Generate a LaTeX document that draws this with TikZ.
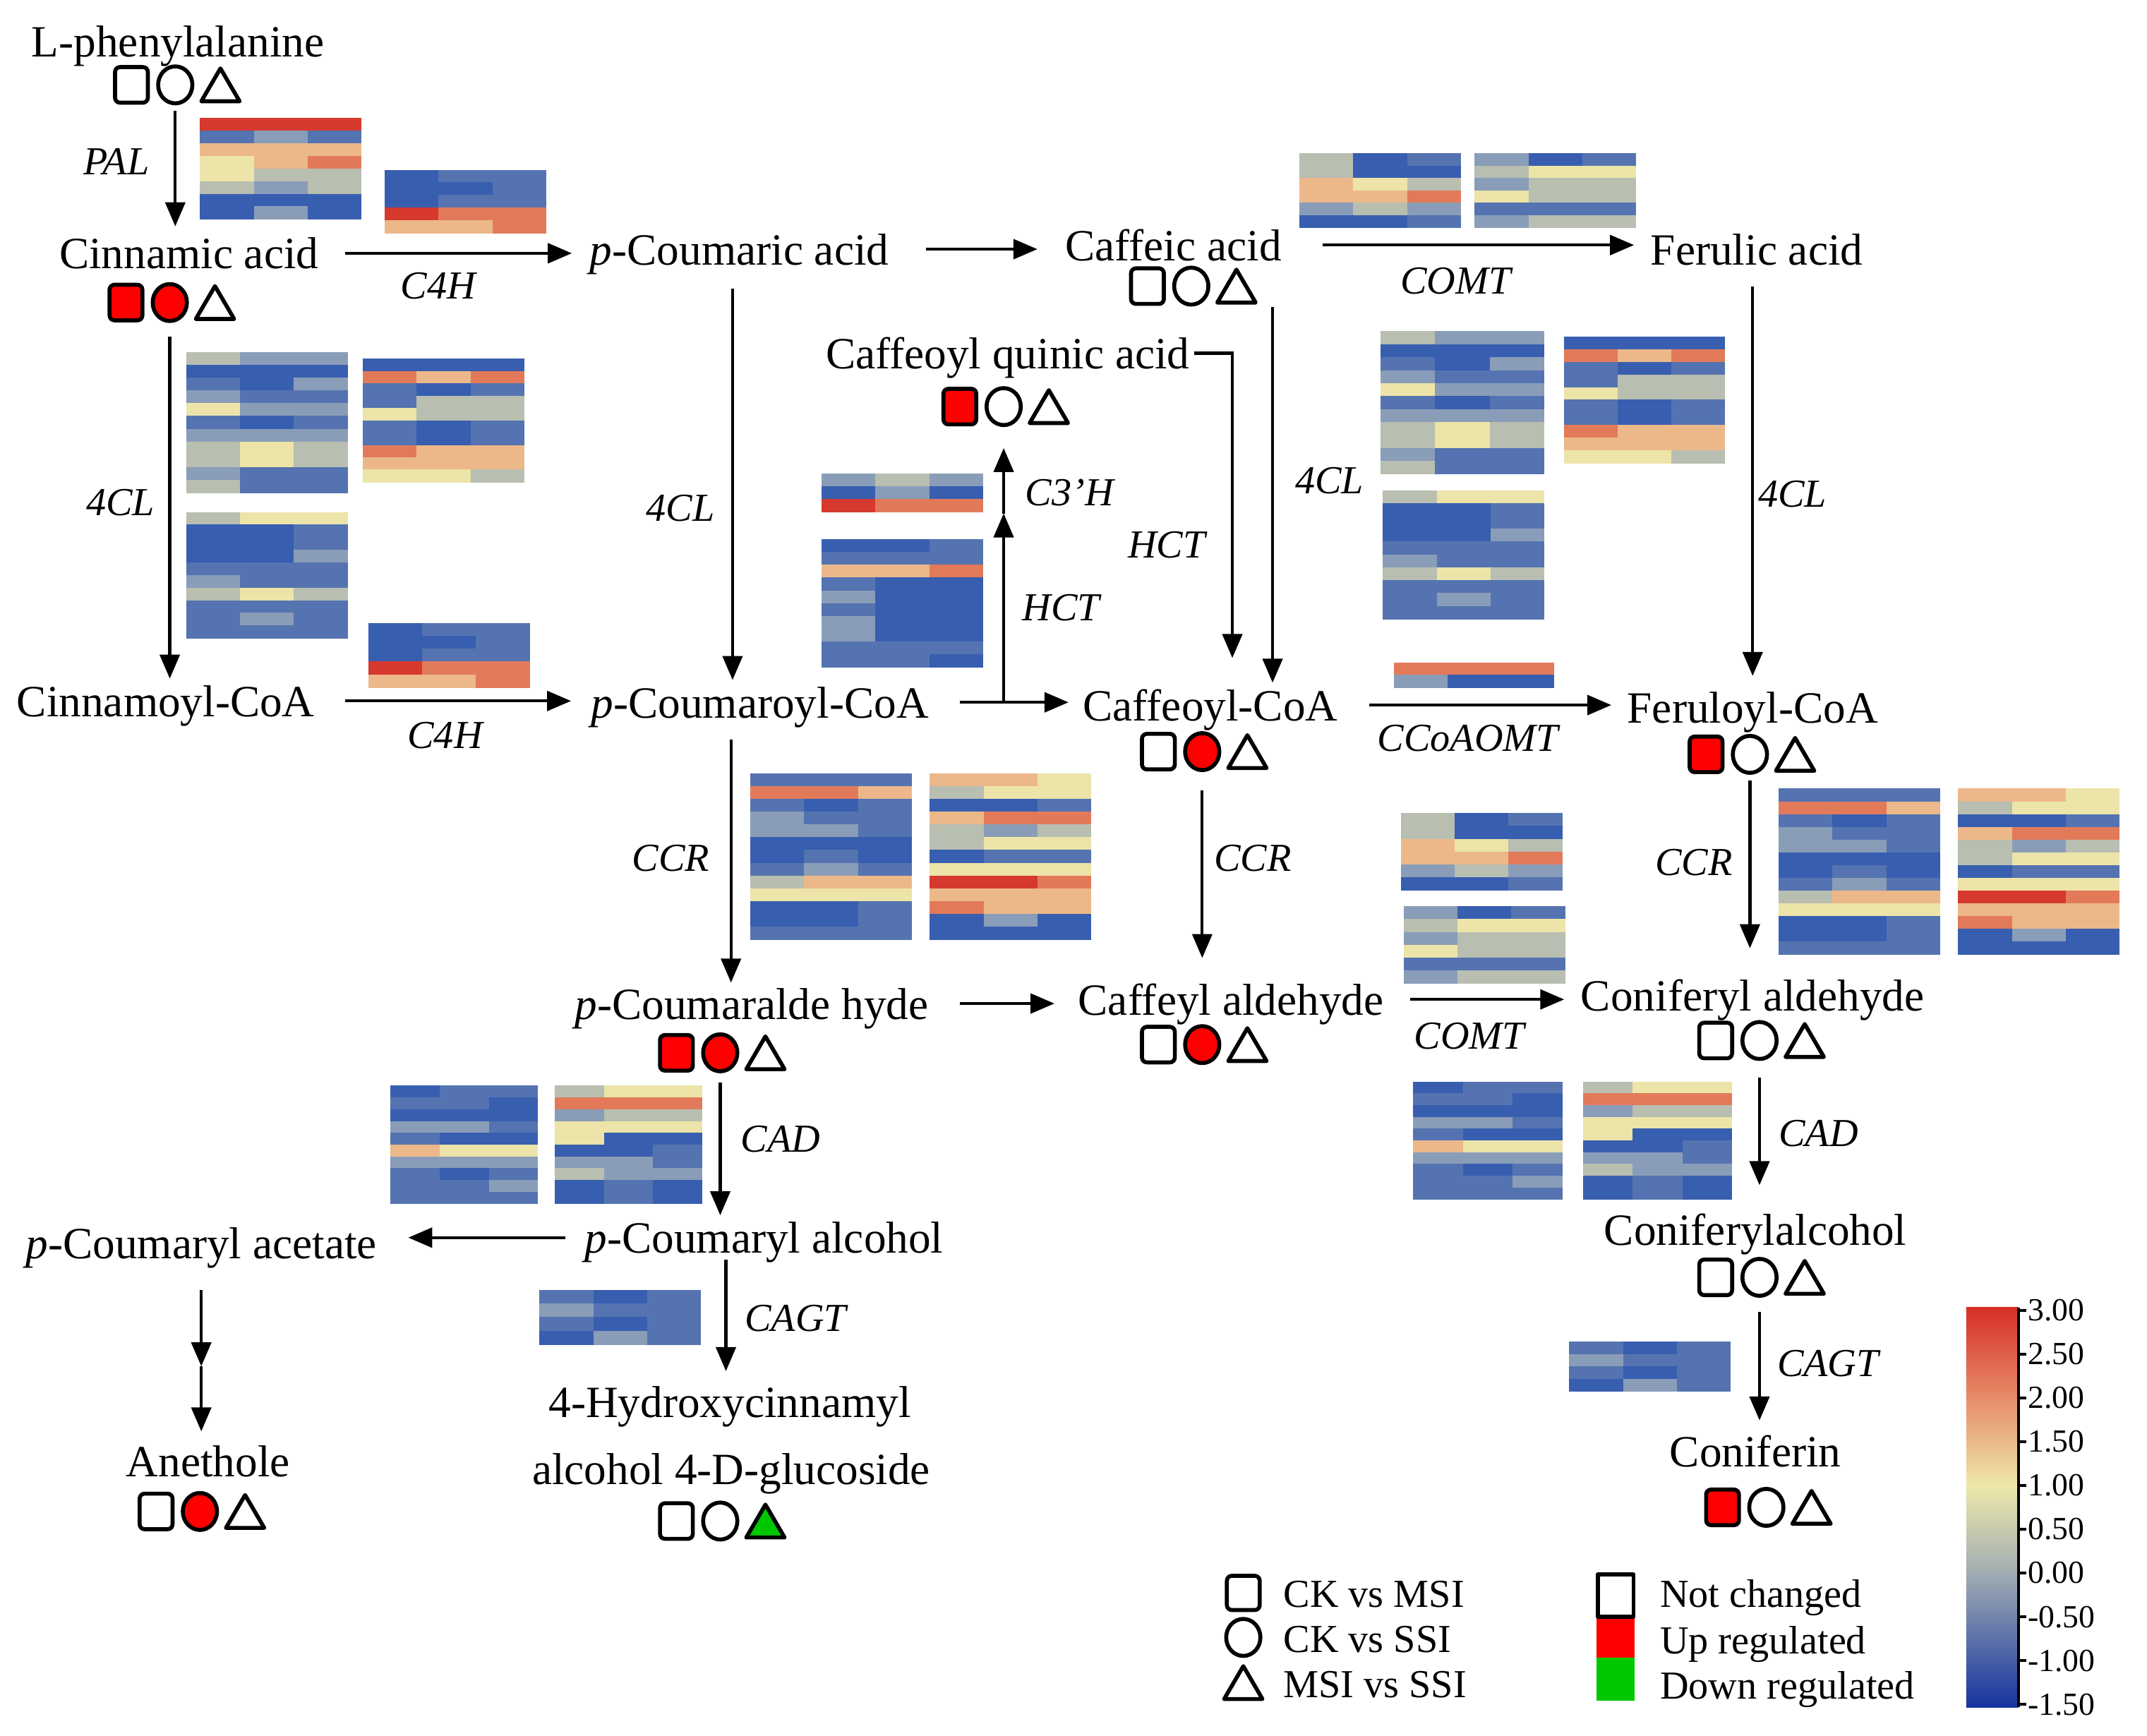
\documentclass[tikz,border=0pt]{standalone}
\usepackage{fontspec}
\setmainfont{Liberation Serif}
\usetikzlibrary{arrows.meta}

% heatmap colours
\definecolor{hmR}{RGB}{214,57,45}
\definecolor{hmO}{RGB}{226,122,90}
\definecolor{hmP}{RGB}{236,184,138}
\definecolor{hmY}{RGB}{236,228,168}
\definecolor{hmG}{RGB}{184,190,176}
\definecolor{hmH}{RGB}{138,157,184}
\definecolor{hmM}{RGB}{84,115,176}
\definecolor{hmB}{RGB}{56,94,176}
% colour bar
\definecolor{cbR}{RGB}{214,47,39}
\definecolor{cbS}{RGB}{230,140,105}
\definecolor{cbY}{RGB}{238,232,170}
\definecolor{cbG}{RGB}{160,172,178}
\definecolor{cbB}{RGB}{22,52,160}
% regulation
\definecolor{symred}{RGB}{255,0,0}
\definecolor{symgreen}{RGB}{0,200,0}

\tikzset{
  met/.style={font=\fontsize{18}{21}\selectfont, inner sep=0pt, text height=12.5pt, text depth=0pt},
  enz/.style={font=\fontsize{16}{19}\selectfont\itshape, inner sep=0pt},
  arr/.style={line width=1.2pt, -{Triangle[length=3.4mm,width=2.8mm]}, shorten <=0.97mm, shorten >=1.55mm},
  symrow/.style={inner sep=0pt, minimum width=17.5mm, minimum height=5.2mm},
  mk/.style={line width=1.6pt, line join=round},
  leg/.style={font=\fontsize{16}{19}\selectfont, inner sep=0pt, anchor=west, text height=11pt, text depth=0pt},
  cbar/.style={font=\fontsize{13}{15}\selectfont, inner sep=0pt, anchor=west}
}

% square / circle / triangle: name, x, y, fills
\newcommand{\symtrio}[6]{%
  \node[symrow] (#1) at (#2,#3) {};
  \draw[mk, fill=#4, rounded corners=0.7mm] (#2-44,#3-13) rectangle (#2-20,#3+13);
  \draw[mk, fill=#5] (#2,#3) ellipse [x radius=12.5, y radius=13.5];
  \draw[mk, fill=#6] (#2+19,#3+12) -- (#2+47,#3+12) -- (#2+33,#3-12) -- cycle;
}

% heatmap: x, y (top), width, height, rows, list of rows
\newcommand{\heatmap}[6]{%
  \foreach \ca/\cb/\cc [count=\ri from 0] in #6 {
    \fill[fill=hm\ca] (#1,{#2+\ri*#4/#5}) rectangle ({#1+#3/3+0.4},{#2+(\ri+1)*#4/#5+0.4});
    \fill[fill=hm\cb] ({#1+#3/3},{#2+\ri*#4/#5}) rectangle ({#1+2*#3/3+0.4},{#2+(\ri+1)*#4/#5+0.4});
    \fill[fill=hm\cc] ({#1+2*#3/3},{#2+\ri*#4/#5}) rectangle ({#1+#3},{#2+(\ri+1)*#4/#5+0.4});
  }}

\newcommand{\rowsPAL}{R/R/R,M/H/M,P/P/P,Y/P/O,Y/G/G,G/H/G,B/B/B,B/H/B}
\newcommand{\rowsCfh}{B/M/M,B/B/M,B/M/M,R/O/O,P/P/O}
\newcommand{\rowsClA}{G/H/H,B/B/B,M/B/H,H/M/M,Y/H/H,M/B/M,H/H/H,G/Y/G,G/Y/G,H/M/M,G/M/M}
\newcommand{\rowsClB}{B/B/B,O/P/O,M/B/M,M/G/G,Y/G/G,M/B/M,M/B/M,O/P/P,P/P/P,Y/Y/G}
\newcommand{\rowsClC}{G/Y/Y,B/B/M,B/B/M,B/B/H,M/M/M,H/M/M,G/Y/G,M/M/M,M/H/M,M/M/M}
\newcommand{\rowsCth}{H/G/H,B/H/B,R/O/O}
\newcommand{\rowsHct}{B/B/M,M/M/M,P/P/O,M/B/B,H/B/B,M/B/B,H/B/B,H/B/B,M/M/M,M/M/B}
\newcommand{\rowsCco}{O/O/O,H/B/B}
\newcommand{\rowsCoA}{G/B/M,G/B/B,P/Y/G,P/P/O,H/G/H,B/B/M}
\newcommand{\rowsCoB}{H/B/M,G/Y/Y,H/G/G,Y/G/G,M/M/M,H/G/G}
\newcommand{\rowsCrA}{M/M/M,O/O/P,M/B/M,H/M/M,H/H/M,B/B/B,B/M/B,M/H/M,G/P/P,Y/Y/Y,B/B/M,B/B/M,M/M/M}
\newcommand{\rowsCrB}{P/P/Y,G/Y/Y,B/B/M,P/O/O,G/H/G,G/Y/Y,B/M/M,Y/Y/Y,R/R/O,P/P/P,O/P/P,B/H/B,B/B/B}
\newcommand{\rowsCdA}{B/M/M,M/M/B,B/B/B,H/H/M,M/B/B,P/Y/Y,H/H/H,M/B/M,M/M/H,M/M/M}
\newcommand{\rowsCdB}{G/Y/Y,O/O/O,H/G/G,Y/Y/Y,Y/B/B,B/B/M,H/H/M,G/H/H,B/M/B,B/M/B}
\newcommand{\rowsCgt}{M/B/M,H/M/M,M/B/M,B/H/M}

\begin{document}
\begin{tikzpicture}[x=0.194mm, y=-0.194mm]
\useasboundingbox (0,0) rectangle (1568,1268);

% heatmaps
\heatmap{146}{86}{118}{74}{8}{\rowsPAL}
\heatmap{281}{124}{118}{46}{5}{\rowsCfh}
\heatmap{269}{455}{118}{47}{5}{\rowsCfh}
\heatmap{949}{112}{118}{54}{6}{\rowsCoA}
\heatmap{1077}{112}{118}{54}{6}{\rowsCoB}
\heatmap{136}{257}{118}{103}{11}{\rowsClA}
\heatmap{265}{262}{118}{90}{10}{\rowsClB}
\heatmap{136}{374}{118}{92}{10}{\rowsClC}
\heatmap{1008}{242}{120}{104}{11}{\rowsClA}
\heatmap{1142}{246}{118}{92}{10}{\rowsClB}
\heatmap{1010}{358}{118}{94}{10}{\rowsClC}
\heatmap{600}{346}{118}{28}{3}{\rowsCth}
\heatmap{600}{394}{118}{93}{10}{\rowsHct}
\heatmap{1018}{484}{117}{18}{2}{\rowsCco}
\heatmap{548}{565}{118}{121}{13}{\rowsCrA}
\heatmap{679}{565}{118}{121}{13}{\rowsCrB}
\heatmap{1299}{576}{118}{121}{13}{\rowsCrA}
\heatmap{1430}{576}{118}{121}{13}{\rowsCrB}
\heatmap{1023}{594}{118}{56}{6}{\rowsCoA}
\heatmap{1025}{662}{118}{56}{6}{\rowsCoB}
\heatmap{285}{793}{108}{86}{10}{\rowsCdA}
\heatmap{405}{793}{108}{86}{10}{\rowsCdB}
\heatmap{1032}{790}{109}{86}{10}{\rowsCdA}
\heatmap{1156}{790}{109}{86}{10}{\rowsCdB}
\heatmap{394}{942}{118}{40}{4}{\rowsCgt}
\heatmap{1146}{980}{118}{36}{4}{\rowsCgt}

% metabolites
\node[met] (phe) at (130,30) {L-phenylalanine};
\node[met] (cin) at (138,185) {Cinnamic acid};
\node[met] (pcou) at (540,182) {\textit{p}-Coumaric acid};
\node[met] (caf) at (857,179) {Caffeic acid};
\node[met] (fer) at (1283,182) {Ferulic acid};
\node[met] (cqa) at (736,258) {Caffeoyl quinic acid};
\node[met] (cinc) at (121,512) {Cinnamoyl-CoA};
\node[met] (pcoc) at (555,513) {\textit{p}-Coumaroyl-CoA};
\node[met] (cafc) at (884,515) {Caffeoyl-CoA};
\node[met] (ferc) at (1280,517) {Feruloyl-CoA};
\node[met] (pcal) at (549,733) {\textit{p}-Coumaralde hyde};
\node[met] (cafal) at (899,730) {Caffeyl aldehyde};
\node[met] (conal) at (1280,727) {Coniferyl aldehyde};
\node[met] (pcoh) at (558,904) {\textit{p}-Coumaryl alcohol};
\node[met] (pcac) at (147,908) {\textit{p}-Coumaryl acetate};
\node[met] (hyd) at (533,1024) {4-Hydroxycinnamyl};
\node[met] (glc) at (534,1073) {alcohol 4-D-glucoside};
\node[met] (ane) at (152,1067) {Anethole};
\node[met] (conoh) at (1282,898) {Coniferylalcohol};
\node[met] (cnf) at (1282,1060) {Coniferin};

% regulation marks
\symtrio{pheM}{128}{62}{white}{white}{white}
\symtrio{cinM}{124}{221}{symred}{symred}{white}
\symtrio{cafM}{870}{209}{white}{white}{white}
\symtrio{cqaM}{733}{297}{symred}{white}{white}
\symtrio{cafcM}{878}{549}{white}{symred}{white}
\symtrio{fercM}{1278}{551}{symred}{white}{white}
\symtrio{pcalM}{526}{769}{symred}{symred}{white}
\symtrio{cafalM}{878}{763}{white}{symred}{white}
\symtrio{conalM}{1285}{760}{white}{white}{white}
\symtrio{hydM}{526}{1111}{white}{white}{symgreen}
\symtrio{aneM}{146}{1104}{white}{symred}{white}
\symtrio{conohM}{1285}{933}{white}{white}{white}
\symtrio{cnfM}{1290}{1101}{symred}{white}{white}

% enzymes
\node[enz] (pal) at (85,118) {PAL};
\node[enz] (cfh1) at (320,209) {C4H};
\node[enz] (comt1) at (1063,205) {COMT};
\node[enz] (cl1) at (88,367) {4CL};
\node[enz] (cfh2) at (325,537) {C4H};
\node[enz] (cl2) at (497,371) {4CL};
\node[enz] (cth) at (781,360) {C3’H};
\node[enz] (hct1) at (775,444) {HCT};
\node[enz] (hct2) at (852,398) {HCT};
\node[enz] (cl3) at (971,351) {4CL};
\node[enz] (cl4) at (1309,361) {4CL};
\node[enz] (cco) at (1072,539) {CCoAOMT};
\node[enz] (ccr1) at (490,627) {CCR};
\node[enz] (ccr2) at (915,627) {CCR};
\node[enz] (ccr3) at (1237,630) {CCR};
\node[enz] (comt2) at (1073,757) {COMT};
\node[enz] (cad1) at (570,832) {CAD};
\node[enz] (cagt1) at (581,963) {CAGT};
\node[enz] (cad2) at (1328,828) {CAD};
\node[enz] (cagt2) at (1335,996) {CAGT};

% reactions
\draw[arr] (pheM.south) -- (pheM.south |- cin.north);
\draw[arr, shorten <=3.7mm, shorten >=2.5mm] (cin.east) -- (cin.east -| pcou.west);
\draw[arr, shorten <=5.2mm, shorten >=3.9mm] (pcou.east) -- (pcou.east -| caf.west);
\draw[arr, shorten <=5.8mm, shorten >=2.3mm] (caf.east) -- (caf.east -| fer.west);
\draw[arr, shorten <=2.2mm, shorten >=0.9mm] (cinM.south) -- (cinM.south |- cinc.north);
\draw[arr, shorten <=4.3mm, shorten >=2.8mm] (cinc.east) -- (cinc.east -| pcoc.west);
\coordinate (pcouDown) at ([xshift=-0.97mm]pcou.south);
\draw[arr, shorten <=3.3mm, shorten >=0.9mm] (pcouDown) -- (pcouDown |- pcoc.north);
\draw[arr, shorten <=4.4mm, shorten >=2mm] (pcoc.east) -- (pcoc.east -| cafc.west);
\coordinate (hctFork) at (pcoc.east -| cqaM.south);
\coordinate (hctMid) at (733,375);
\draw[arr, shorten <=0pt, shorten >=0pt] (hctFork) -- (hctMid);
\draw[arr, shorten <=0pt, shorten >=3.2mm] (hctMid) -- (cqaM.south);
\coordinate (cqaTurn) at (900,0);
\draw[arr, shorten <=0.6mm, shorten >=4.4mm] (cqa.east) -| (cafc.north -| cqaTurn);
\coordinate (cafDown) at ([xshift=2.7mm]cafM.south east);
\draw[arr, shorten <=0.3mm, shorten >=0.9mm] (cafDown) -- (cafDown |- cafc.north);
\draw[arr, shorten <=3mm, shorten >=2.25mm] (fer.south -| ferc.north) -- (ferc.north);
\draw[arr, shorten <=4.4mm, shorten >=2.2mm] (cafc.east) -- (cafc.east -| ferc.west);
\coordinate (pcocDown) at ([xshift=-4.1mm]pcoc.south);
\draw[arr, shorten <=3mm, shorten >=0.7mm] (pcocDown) -- (pcocDown |- pcal.north);
\draw[arr, shorten <=2.8mm, shorten >=3.6mm] (cafcM.south) -- (cafcM.south |- cafal.north);
\draw[arr, shorten <=1.07mm, shorten >=4.4mm] (fercM.south) -- (fercM.south |- conal.north);
\draw[arr, shorten <=4.4mm, shorten >=3.3mm] (pcal.east) -- (pcal.east -| cafal.west);
\draw[arr, shorten <=3.7mm, shorten >=2.3mm] (cafal.east) -- (cafal.east -| conal.west);
\draw[arr, shorten <=1.5mm, shorten >=0.9mm] (pcalM.south) -- (pcalM.south |- pcoh.north);
\draw[arr, shorten <=2.7mm, shorten >=4.4mm] (pcoh.west) -- (pcoh.west -| pcac.east);
\coordinate (pcohDown) at ([xshift=-5.4mm]pcoh.south);
\draw[arr, shorten <=0.9mm, shorten >=2.1mm] (pcohDown) -- (pcohDown |- hyd.north);
\coordinate (aneMid) at (148,998);
\draw[arr, shorten <=4.4mm, shorten >=0pt] (pcac.south) -- (pcac.south |- aneMid);
\draw[arr, shorten <=0pt, shorten >=1.9mm] (pcac.south |- aneMid) -- (pcac.south |- ane.north);
\draw[arr, shorten <=2.6mm, shorten >=4mm] (conalM.south) -- (conalM.south |- conoh.north);
\draw[arr, shorten <=2.2mm, shorten >=2.1mm] (conohM.south) -- (conohM.south |- cnf.north);

% legend
\draw[mk, rounded corners=0.7mm] (896,1151) rectangle (920,1176);
\draw[mk] (908,1196) ellipse [x radius=12.5, y radius=13.5];
\draw[mk] (894,1241) -- (922,1241) -- (908,1217) -- cycle;
\node[leg] (lgA) at (937,1164) {CK vs MSI};
\node[leg] (lgB) at (937,1197) {CK vs SSI};
\node[leg] (lgC) at (937,1230) {MSI vs SSI};
\fill[symred] (1166,1181) rectangle (1194,1211);
\fill[symgreen] (1166,1211) rectangle (1194,1242);
\draw[mk, fill=white] (1167,1150) rectangle (1193,1181);
\node[leg] (lgN) at (1212,1164) {Not changed};
\node[leg] (lgU) at (1212,1198) {Up regulated};
\node[leg] (lgD) at (1212,1231) {Down regulated};

% colour bar
\shade[top color=cbR, bottom color=cbS] (1436,955) rectangle (1474,1021.5);
\shade[top color=cbS, bottom color=cbY] (1436,1021) rectangle (1474,1085.5);
\shade[top color=cbY, bottom color=cbG] (1436,1085) rectangle (1474,1149.5);
\shade[top color=cbG, bottom color=cbB] (1436,1149) rectangle (1474,1247);
\draw[line width=1.1pt] (1474,955) -- (1474,1247);
\foreach \v [count=\k from 0] in {3.00,2.50,2.00,1.50,1.00,0.50,0.00,-0.50,-1.00,-1.50}
  \draw[line width=1.1pt] (1474,957+32*\k) -- ++(6,0) node[cbar] {\v};
\end{tikzpicture}
\end{document}
